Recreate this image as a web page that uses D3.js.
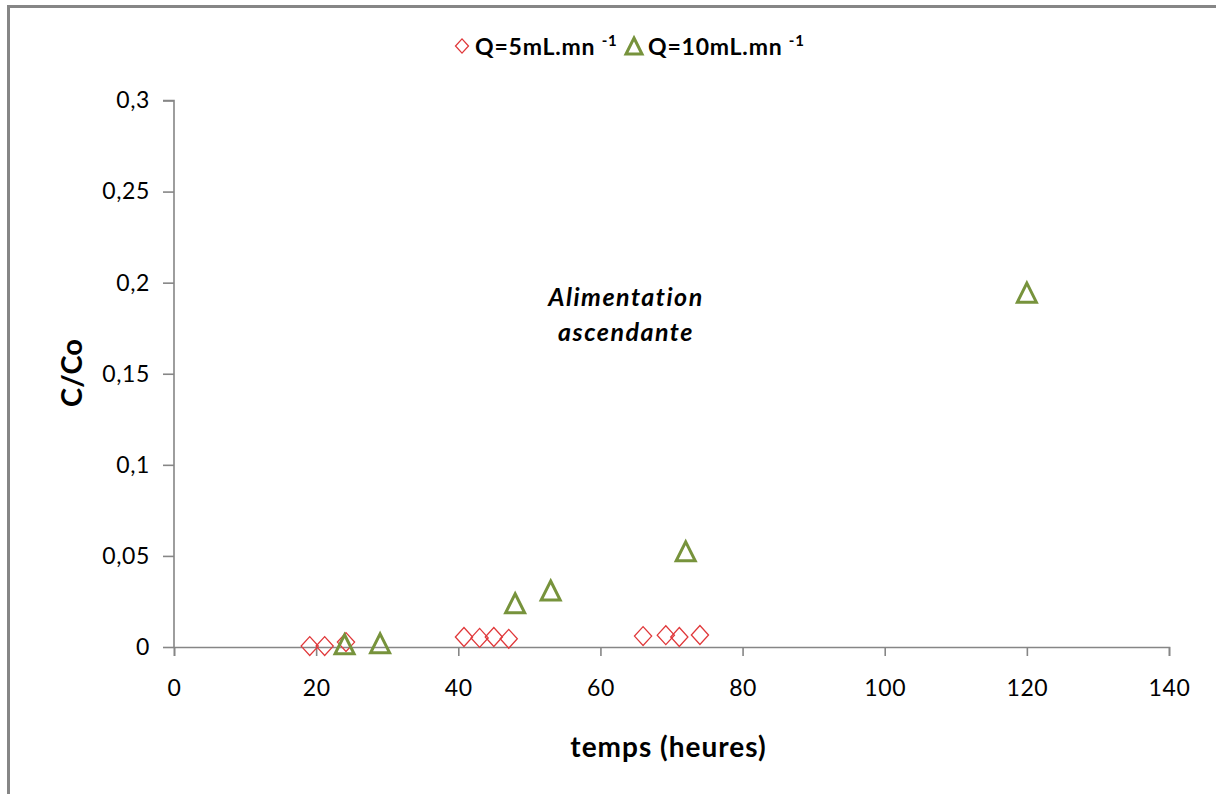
<!DOCTYPE html>
<html>
<head>
<meta charset="utf-8">
<script src="https://cdn.jsdelivr.net/npm/d3@7"></script>
<style>
  html, body { margin: 0; padding: 0; background: #fff; }
  svg { display: block; }
  text { font-family: Lato, "Open Sans", sans-serif; fill: #000; }
</style>
</head>
<body>
<svg id="chart" width="1216" height="794"></svg>
<script>
// Breakthrough data: time in hours, relative concentration C/Co
const q5Time  = [19.1, 21.2, 24.2, 40.8, 43.0, 45.0, 47.1, 66.0, 69.2, 71.1, 74.0];
const q5Conc  = [0.0005, 0.0005, 0.0027, 0.0055, 0.005, 0.0055, 0.0045, 0.006, 0.0065, 0.0055, 0.0066];
const q10Time = [24.0, 29.0, 48.0, 53.0, 72.0, 120.0];
const q10Conc = [0.0015, 0.002, 0.024, 0.031, 0.0525, 0.1945];

const xTicks = [0, 20, 40, 60, 80, 100, 120, 140];
const yTicks = [0, 0.05, 0.1, 0.15, 0.2, 0.25, 0.3];
const seriesNames = ["Q=5mL.mn", "Q=10mL.mn"];
const annotation = ["Alimentation", "ascendante"];

const svg = d3.select("#chart");

const x = d3.scaleLinear().domain([0, 140]).range([174, 1169]);
const y = d3.scaleLinear().domain([0, 0.3]).range([647, 100.5]);

const fmt = v => String(v).replace(".", ",");
const axisColor = "#868686";

// outer chart frame (left and top edges)
svg.append("path")
  .attr("d", "M8.5,794 L8.5,6.5 L1216,6.5")
  .attr("fill", "none").attr("stroke", axisColor).attr("stroke-width", 3);

// x axis
const gx = svg.append("g").attr("transform", `translate(0,${y(0)})`)
  .call(d3.axisBottom(x).tickValues(xTicks).tickSize(9).tickPadding(24).tickFormat(fmt));
// y axis
const gy = svg.append("g").attr("transform", `translate(${x(0)},0)`)
  .call(d3.axisLeft(y).tickValues(yTicks).tickSize(11).tickPadding(13).tickFormat(fmt));

[gx, gy].forEach(g => {
  g.select(".domain").attr("stroke", axisColor).attr("stroke-width", 1.6);
  g.selectAll(".tick line").attr("stroke", axisColor).attr("stroke-width", 1.6);
  g.selectAll(".tick text").attr("font-size", 23).attr("font-family", "Lato, sans-serif")
    .attr("letter-spacing", 0.6).attr("fill", "#000");
});
gy.select(".domain").attr("d", `M-11,${y(0.3)}H0V${y(0)}`);
gx.selectAll(".tick text").attr("dy", "0.71em");

// marker shapes
const diamond = (s) => `M0,${-s * 1.1}L${s},0L0,${s * 1.1}L${-s},0Z`;
const triangle = (s) => `M0,${-s}L${s},${s}L${-s},${s}Z`;

const red = "#e0383a";
const green = "#77933c";

svg.append("g").selectAll("path")
  .data(q5Time.map((t, i) => [t, q5Conc[i]]))
  .join("path")
  .attr("transform", d => `translate(${x(d[0])},${y(d[1])})`)
  .attr("d", diamond(8.6))
  .attr("fill", "none").attr("stroke", red).attr("stroke-width", 1.3);

svg.append("g").selectAll("path")
  .data(q10Time.map((t, i) => [t, q10Conc[i]]))
  .join("path")
  .attr("transform", d => `translate(${x(d[0])},${y(d[1])})`)
  .attr("d", triangle(9.5))
  .attr("fill", "none").attr("stroke", green).attr("stroke-width", 3).attr("stroke-linejoin", "miter");

// axis titles
svg.append("text")
  .attr("x", x(70) - 3).attr("y", 757)
  .attr("text-anchor", "middle").attr("font-weight", "bold").attr("font-size", 28)
  .attr("letter-spacing", 1)
  .text("temps (heures)");

svg.append("text")
  .attr("transform", "translate(82,373) rotate(-90)")
  .attr("text-anchor", "middle").attr("font-weight", "bold").attr("font-size", 29)
  .text("C/Co");

// annotation
svg.append("text")
  .attr("x", 626).attr("y", 306)
  .attr("text-anchor", "middle").attr("font-weight", "bold").attr("font-style", "italic").attr("font-size", 25)
  .attr("letter-spacing", 1.5)
  .selectAll("tspan").data(annotation).join("tspan")
  .attr("x", 626).attr("dy", (d, i) => i === 0 ? 0 : 35)
  .text(d => d);

// legend
const legend = svg.append("g");
const legendItems = [
  { name: seriesNames[0], mx: 462, tx: 475, shape: diamond(6.5), color: red, sw: 1.3 },
  { name: seriesNames[1], mx: 634, tx: 648, shape: triangle(8), color: green, sw: 3 }
];
legendItems.forEach(it => {
  legend.append("path")
    .attr("transform", `translate(${it.mx},46)`)
    .attr("d", it.shape).attr("fill", "none").attr("stroke", it.color).attr("stroke-width", it.sw);
  const t = legend.append("text").attr("x", it.tx).attr("y", 55).attr("font-size", 23)
    .attr("font-weight", "bold").attr("letter-spacing", 0.8);
  t.append("tspan").text(it.name + " ");
  t.append("tspan").attr("font-size", 15).attr("dy", -9).text("-1");
});
</script>
</body>
</html>
